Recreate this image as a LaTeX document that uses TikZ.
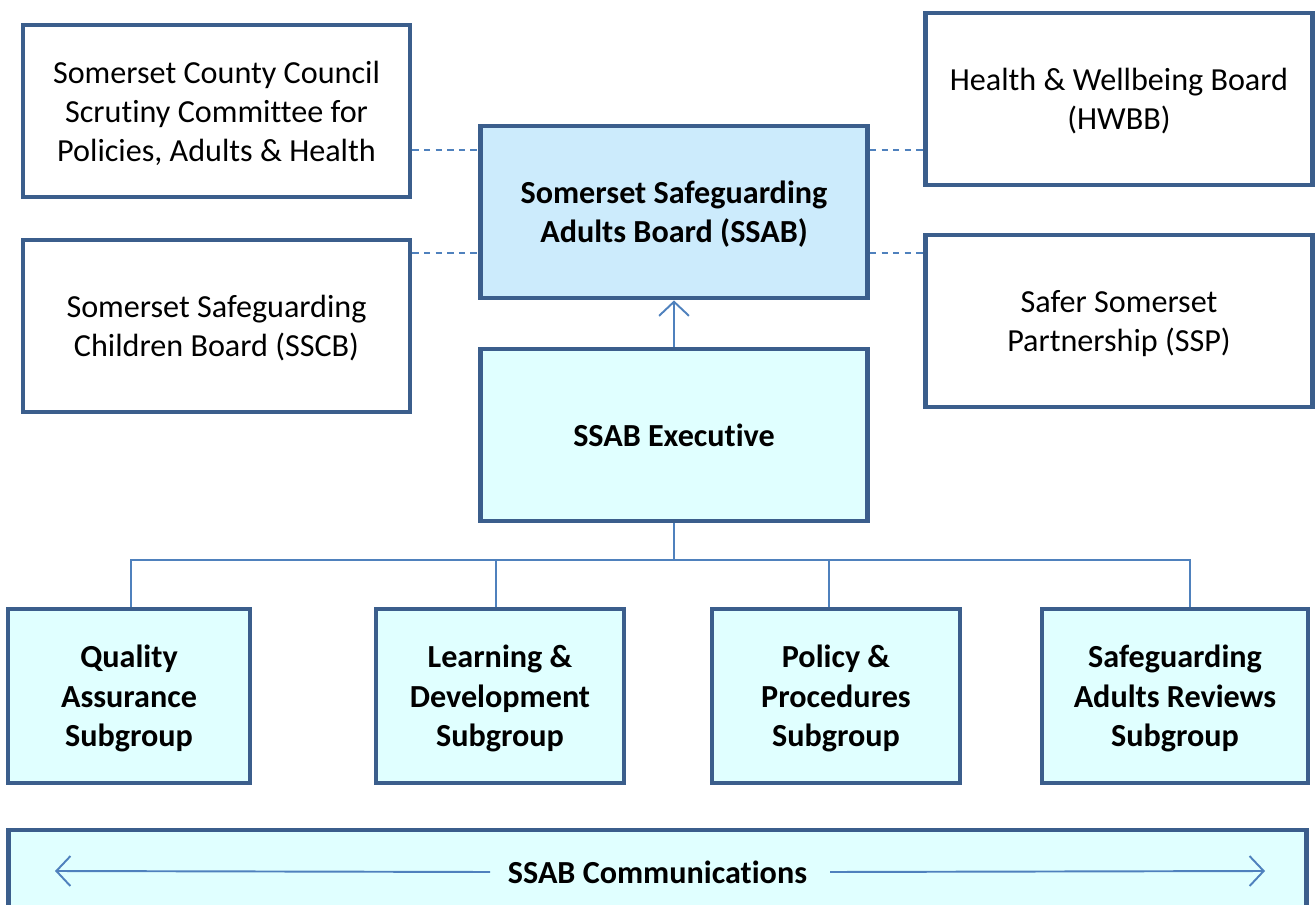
\documentclass[tikz,border=0pt]{standalone}
\usepackage{fontspec}
\setmainfont{Carlito}[Ligatures=NoCommon]
\usetikzlibrary{arrows.meta,positioning}
\definecolor{BoxLine}{RGB}{59,94,140}
\definecolor{LinkColor}{RGB}{79,129,189}
\definecolor{BoardFill}{RGB}{204,235,252}
\definecolor{GroupFill}{RGB}{224,255,255}
\tikzset{
  partnerbox/.style={draw=BoxLine, line width=2.8pt, fill=white, minimum width=7.74cm, minimum height=3.44cm, align=center, inner sep=0pt, text depth=0pt, font=\fontsize{18.3}{22.2}\selectfont},
  boardbox/.style={partnerbox, fill=BoardFill, font=\fontsize{18.3}{22.4}\selectfont\bfseries},
  groupbox/.style={boardbox, fill=GroupFill},
  link/.style={draw=LinkColor, line width=1.1pt},
  partnerlink/.style={link, dash pattern=on 3.6pt off 3pt},
}

\begin{document}
\begin{tikzpicture}[x=0.02cm, y=-0.02cm, >={Straight Barb[length=8pt,width=17pt]}]
  \useasboundingbox (0,0) rectangle (1315,905);
  \node[partnerbox] (scc) at (216.5,111) {Somerset County Council\\Scrutiny Committee for\\Policies, Adults \& Health};
  \node[partnerbox] (sscb) at (216.5,326) {Somerset Safeguarding\\Children Board (SSCB)};
  \node[partnerbox] (hwbb) at (1119,99) {Health \& Wellbeing Board\\(HWBB)};
  \node[partnerbox] (ssp) at (1119,321) {Safer Somerset\\Partnership (SSP)};
  \node[boardbox] (ssab) at (674,212) {Somerset Safeguarding\\Adults Board (SSAB)};
  \node[groupbox] (exec) at (674,435) {SSAB Executive};
  \node[groupbox, minimum width=4.84cm, minimum height=3.48cm] (qa) at (129,696) {Quality\\Assurance\\Subgroup};
  \node[groupbox, minimum width=4.96cm, minimum height=3.48cm] (ld) at (500,696) {Learning \&\\Development\\Subgroup};
  \node[groupbox, minimum width=4.96cm, minimum height=3.48cm] (pp) at (836,696) {Policy \&\\Procedures\\Subgroup};
  \node[groupbox, minimum width=5.32cm, minimum height=3.48cm] (sar) at (1175,696) {Safeguarding\\Adults Reviews\\Subgroup};
  \node[groupbox, minimum width=25.98cm, minimum height=1.68cm] (comms) at (657.5,872) {SSAB Communications};
  \coordinate (bus) at (674,560);
  \coordinate (commsL) at (55,871);
  \coordinate (commsR) at (1265,871);
  \draw[partnerlink] (scc.east |- 0,150) -- (ssab.west |- 0,150);
  \draw[partnerlink] (sscb.east |- 0,253) -- (ssab.west |- 0,253);
  \draw[partnerlink] (ssab.east |- 0,150) -- (hwbb.west |- 0,150);
  \draw[partnerlink] (ssab.east |- 0,253) -- (ssp.west |- 0,253);
  \draw[link, ->] (exec.north) -- (ssab.south);
  \draw[link] (exec.south) -- (bus);
  \draw[link] (bus) -| ([xshift=0.04cm]qa.north);
  \draw[link] (bus) -| ([xshift=-0.08cm]ld.north);
  \draw[link] (bus) -| ([xshift=-0.14cm]pp.north);
  \draw[link] (bus) -| ([xshift=0.3cm]sar.north);
  \draw[link, ->] (comms.center -| 490,0) -- (commsL);
  \draw[link, ->] (comms.center -| 830,0) -- (commsR);
\end{tikzpicture}
\end{document}
